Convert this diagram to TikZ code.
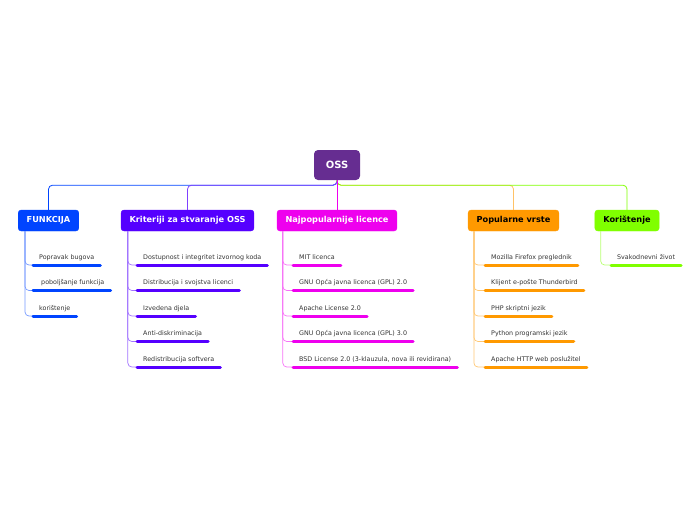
\documentclass[tikz,border=0pt]{standalone}
\usepackage{fontspec}
\setmainfont{DejaVu Sans}
\usetikzlibrary{calc}

\definecolor{cjezgra}{RGB}{102,45,145}
\definecolor{cfunk}{RGB}{0,68,255}
\definecolor{ckrit}{RGB}{85,0,255}
\definecolor{clic}{RGB}{238,0,238}
\definecolor{cvrste}{RGB}{255,153,0}
\definecolor{ckor}{RGB}{128,255,0}

\tikzset{
	topic/.style={rounded corners=3pt, fill=#1, draw=#1, text=white,
		font=\fontsize{8.2}{10}\selectfont\bfseries,
		minimum height=21pt, inner xsep=8.5pt, inner ysep=0pt},
	leaf/.style={anchor=south west, inner xsep=6pt, inner ysep=5.5pt,
		text height=4.5pt, text depth=0pt, text=black!80,
		font=\fontsize{6.35}{7.5}\selectfont},
	bar/.style={line width=3pt, line cap=round, draw=#1},
	stem/.style={line width=0.7pt, draw=#1!55, rounded corners=4pt},
	branch/.style={line width=0.8pt, draw=#1, rounded corners=4pt}
}

\begin{document}
\begin{tikzpicture}[x=1pt, y=-1pt]
		%%%%% START %%%%%
		\useasboundingbox (0,0) rectangle (696,520);
		
		\node[rounded corners=4pt, fill=cjezgra, text=white, minimum width=46pt, minimum height=30pt,
			font=\fontsize{10}{12}\selectfont\bfseries] (oss) at (337,165) {OSS};
		
		\node[topic=cfunk] (funkcija) at (48.5,220.5) {FUNKCIJA};
		\node[topic=ckrit] (kriteriji) at (187.5,220.5) {Kriteriji za stvaranje OSS};
		\node[topic=clic] (licence) at (337,220.5) {Najpopularnije licence};
		\node[topic=cvrste, text=black] (vrste) at (513.5,220.5) {Popularne vrste};
		\node[topic=ckor, text=black] (koristenje) at (627,220.5) {Korištenje};
		
		% grane od OSS
		\draw[branch=cfunk] (oss.south) -- ++(0,5) -| (funkcija.north);
		\draw[branch=ckrit!75] (oss.south) -- ++(0,5) -| (kriteriji.north);
		\draw[branch=cvrste!60] (oss.south) -- ++(0,5) -| (vrste.north);
		\draw[branch=ckor] (oss.south) -- ++(0,5) -| (koristenje.north);
		\draw[branch=clic] (oss.south) -- (licence.north);
		
		% FUNKCIJA
		\foreach \t [count=\i] in {Popravak bugova, {\ poboljšanje funkcija}, korištenje} {
			\node[leaf] (f\i) at (33,{265+25.5*(\i-1)}) {\t};
			\draw[stem=cfunk] ($(funkcija.south west)+(7,0)$) |- (f\i.south west);
			\draw[bar=cfunk] (f\i.south west) -- (f\i.south east);
		}
		
		% Kriteriji
		\foreach \t [count=\i] in {Dostupnost i integritet izvornog koda, Distribucija i svojstva licenci,
			Izvedena djela, Anti-diskriminacija, Redistribucija softvera} {
			\node[leaf] (k\i) at (137,{265+25.5*(\i-1)}) {\t};
			\draw[stem=ckrit] ($(kriteriji.south west)+(7,0)$) |- (k\i.south west);
			\draw[bar=ckrit] (k\i.south west) -- (k\i.south east);
		}
		
		% licence
		\foreach \t [count=\i] in {MIT licenca, GNU Opća javna licenca (GPL) 2.0, Apache License 2.0,
			GNU Opća javna licenca (GPL) 3.0, {BSD License 2.0 (3-klauzula, nova ili revidirana)}} {
			\node[leaf] (l\i) at (293,{265+25.5*(\i-1)}) {\t};
			\draw[stem=clic] ($(licence.south west)+(6,0)$) |- (l\i.south west);
			\draw[bar=clic] (l\i.south west) -- (l\i.south east);
		}
		
		% vrste
		\foreach \t [count=\i] in {Mozilla Firefox preglednik, Klijent e-pošte Thunderbird, PHP skriptni jezik,
			Python programski jezik, Apache HTTP web poslužitel} {
			\node[leaf] (v\i) at (485,{265+25.5*(\i-1)}) {\t};
			\draw[stem=cvrste] ($(vrste.south west)+(6,0)$) |- (v\i.south west);
			\draw[bar=cvrste] (v\i.south west) -- (v\i.south east);
		}
		
		% Korištenje
		\node[leaf] (s1) at (611,265) {Svakodnevni život};
		\draw[stem=ckor] ($(koristenje.south west)+(6,0)$) |- (s1.south west);
		\draw[bar=ckor] (s1.south west) -- (s1.south east);
		
		%%%%% END %%%%%
\end{tikzpicture}
\end{document}
